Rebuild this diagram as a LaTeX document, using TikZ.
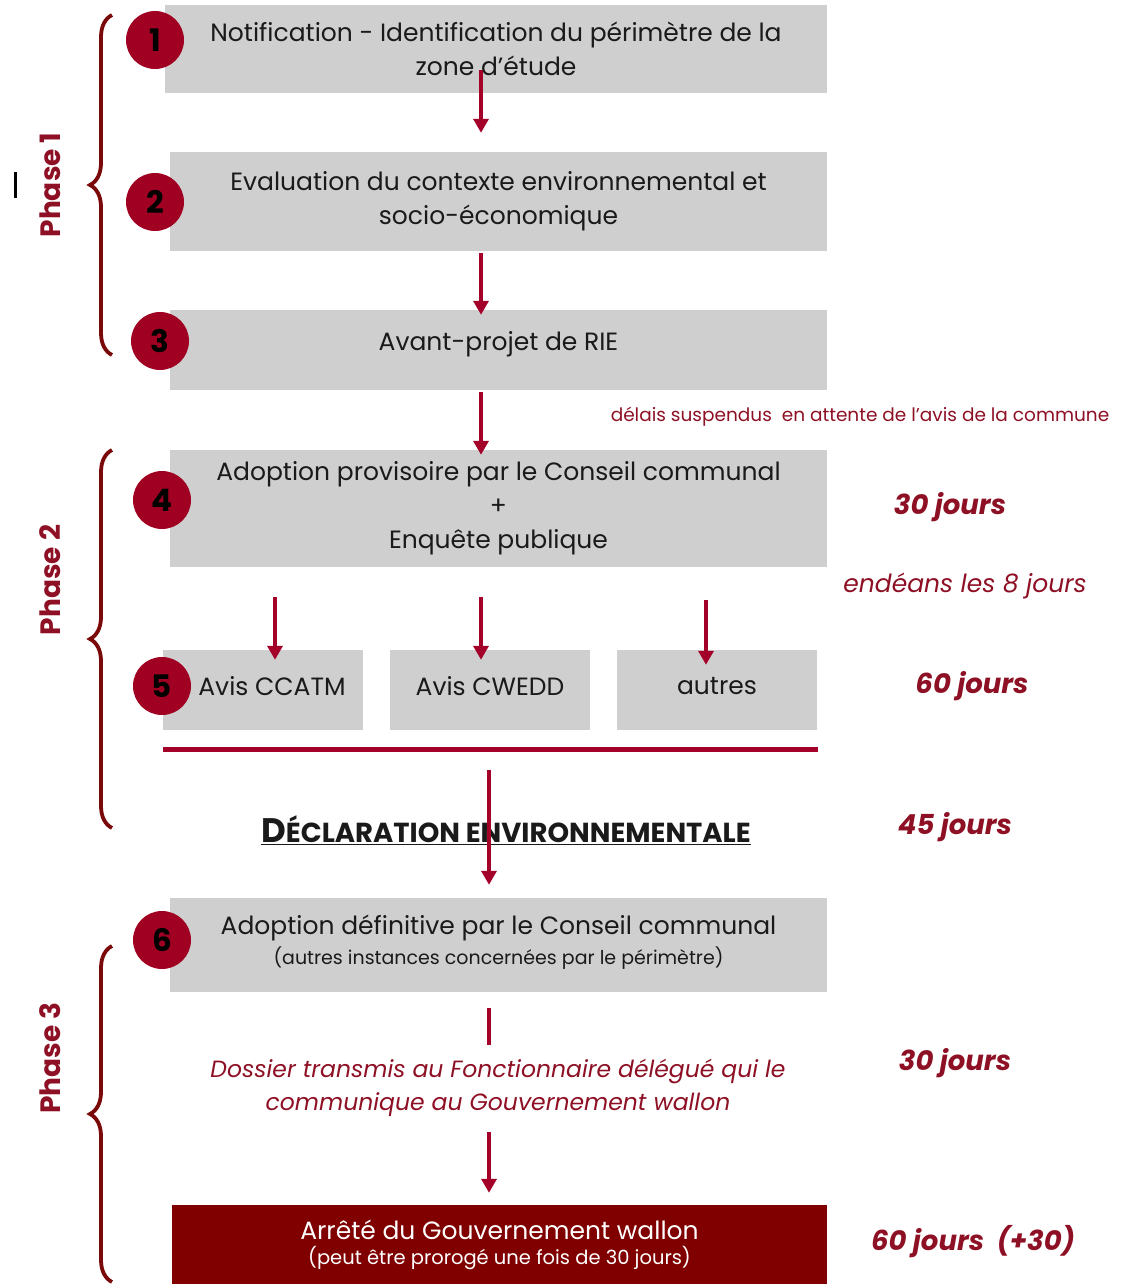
\documentclass[tikz,border=0pt]{standalone}
\usepackage{fontspec}
\setmainfont{Poppins}
\usetikzlibrary{arrows.meta,calc,decorations.pathreplacing}
\definecolor{boxgray}{HTML}{CFCFCF}
\definecolor{numred}{HTML}{A00022}
\definecolor{flowred}{HTML}{A3002A}
\definecolor{bracered}{HTML}{7A0A0A}
\definecolor{txtred}{HTML}{8E1024}
\definecolor{darkbox}{HTML}{800000}
\definecolor{ink}{HTML}{1A1A1A}
\tikzset{
  stepbox/.style={fill=boxgray, inner sep=0pt, align=center, text=ink,
    font=\fontsize{25}{34}\selectfont},
  num/.style={circle, fill=numred, minimum size=58pt, inner sep=0pt,
    font=\fontsize{31}{31}\selectfont\bfseries},
  flow/.style={draw=flowred, line width=4pt, -{Triangle[width=15pt,length=14pt]}},
  jours/.style={text=txtred, font=\fontsize{27.5}{27.5}\selectfont\bfseries\itshape},
  phasebrace/.style={draw=bracered, line width=3.8pt, decorate,
    decoration={brace, amplitude=22pt}},
  phaselabel/.style={text=txtred, rotate=90, font=\fontsize{28}{28}\selectfont\bfseries}
}
\begin{document}
\begin{tikzpicture}[x=1pt, y=-1pt]
  \useasboundingbox (0,0) rectangle (1120,1284);
  % steps
  \node[stepbox, minimum width=662, minimum height=88] (b1) at (496,49)
    {Notification - Identification du périmètre de la\\zone d'étude};
  \node[stepbox, minimum width=657, minimum height=99] (b2) at (498.5,201.5)
    {Evaluation du contexte environnemental et\\socio-économique};
  \node[stepbox, minimum width=657, minimum height=80, text depth=19pt] (b3) at (498.5,350)
    {Avant-projet de RIE};
  \node[stepbox, minimum width=657, minimum height=117] (b4) at (498.5,508.5)
    {Adoption provisoire par le Conseil communal\\+\\Enquête publique};
  \node[stepbox, minimum width=200, minimum height=80, text depth=9pt] (b5a) at (263,690)
    {\hspace*{18pt}Avis CCATM};
  \node[stepbox, minimum width=200, minimum height=80, text depth=9pt] (b5b) at (490,690) {Avis CWEDD};
  \node[stepbox, minimum width=200, minimum height=80, text depth=9pt] (b5c) at (717,690) {autres};
  \node[stepbox, minimum width=657, minimum height=94, text depth=10pt] (b6) at (498.5,945)
    {Adoption définitive par le Conseil communal\\[-4pt]
     {\fontsize{19}{19}\selectfont (autres instances concernées par le périmètre)}};
  \node[stepbox, fill=darkbox, text=white, minimum width=655, minimum height=79] (b7) at (499.5,1244.5)
    {Arrêté du Gouvernement wallon\\[-9pt]
     {\fontsize{19.5}{19.5}\selectfont (peut être prorogé une fois de 30 jours)}};
  % numbers
  \node[num] (n1) at (155,40) {1};
  \node[num] (n2) at (155,202) {2};
  \node[num] (n3) at (160,341) {3};
  \node[num] (n4) at (162,500) {4};
  \node[num] (n5) at (162,686) {5};
  \node[num] (n6) at (162,940) {6};
  % texts between the steps
  \node[text=txtred, font=\fontsize{18.5}{18.5}\selectfont] (wait) at (860,417)
    {délais suspendus\ \ en attente de l'avis de la commune};
  \node[text=ink, font=\fontsize{34}{34}\selectfont\bfseries] (decl) at (506,830)
    {\underline{D{\fontsize{27.5}{27.5}\selectfont ÉCLARATION ENVIRONNEMENTALE}}};
  \node[text=txtred, align=center, font=\fontsize{23.5}{33}\selectfont\itshape] (doss) at (498,1088)
    {Dossier transmis au Fonctionnaire délégué qui le\\communique au Gouvernement wallon};
  % delays
  \node[jours] (d4) at (950,507) {30 jours};
  \node[text=txtred, font=\fontsize{25}{25}\selectfont\itshape] (d8) at (965,586) {endéans les 8 jours};
  \node[jours] (d5) at (972,686) {60 jours};
  \node[jours] (d45) at (955,827) {45 jours};
  \node[jours] (d6) at (955,1063) {30 jours};
  \node[jours] (d7) at (973,1242) {60 jours\ \ (+30)};
  % arrows
  \draw[flow] ($(b1.south)+(-15,-23)$) -- ($(b2.north)+(-17.5,-19)$);
  \draw[flow] ($(b2.south)+(-17.5,2)$) -- ($(b3.north)+(-17.5,5)$);
  \draw[flow] ($(b3.south)+(-17.5,2)$) -- ($(b4.north)+(-17.5,5)$);
  \draw[flow] ($(b5a.north)+(12,-53)$) -- ($(b5a.north)+(12,10)$);
  \draw[flow] ($(b5b.north)+(-9,-53)$) -- ($(b5b.north)+(-9,10)$);
  \draw[flow] ($(b5c.north)+(-11,-50)$) -- ($(b5c.north)+(-11,15)$);
  \draw[draw=flowred, line width=5pt] ($(b5a.south west)+(0,19)$) -- ($(b5c.south east)+(1,19)$);
  \draw[flow] ($(b5b.south)+(-1,40)$) -- ($(b6.north)+(-9.5,-13)$);
  \draw[draw=flowred, line width=4pt] ($(b6.south)+(-9.5,16)$) -- ($(b6.south)+(-9.5,53)$);
  \draw[flow] ($(doss.south)+(-9,12)$) -- ($(b7.north)+(-10.5,-12)$);
  % phases
  \draw[phasebrace] (112,355) -- (112,15);
  \draw[phasebrace] (112,828) -- (112,450);
  \draw[phasebrace] (112,1282) -- (112,946);
  \node[phaselabel] (p1) at (50,185) {Phase 1};
  \node[phaselabel] (p2) at (50,580) {Phase 2};
  \node[phaselabel] (p3) at (50,1058) {Phase 3};
  \draw[line width=3pt] (15,172) -- (15,198);
\end{tikzpicture}
\end{document}
